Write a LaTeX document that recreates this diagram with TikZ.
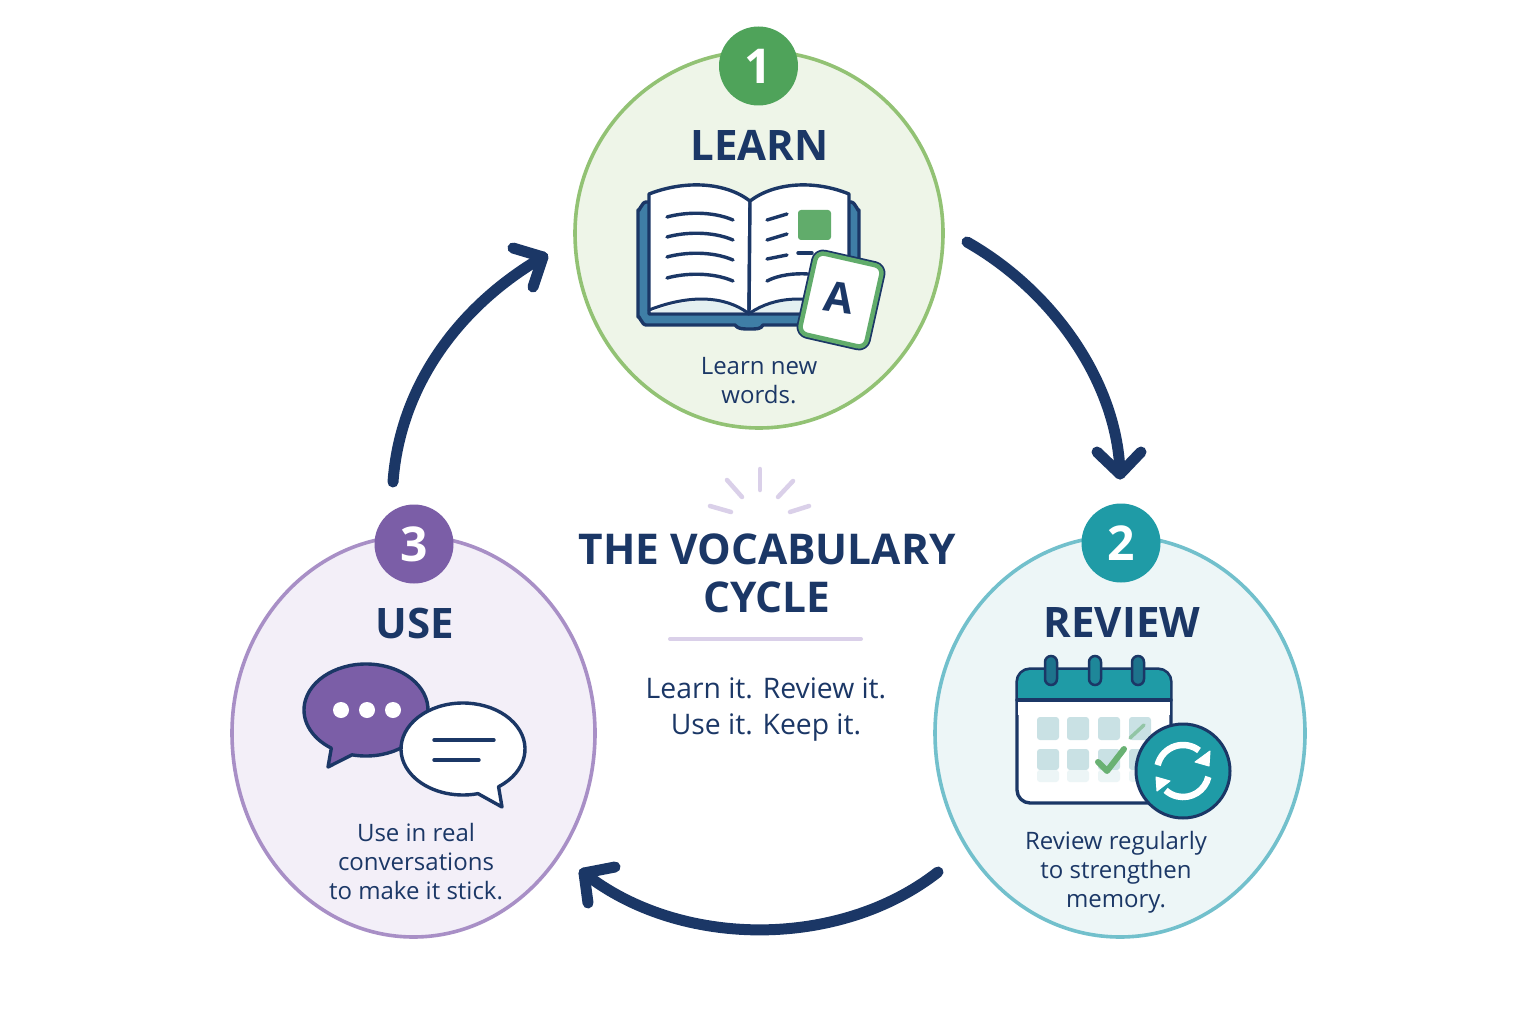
\documentclass[tikz,border=0pt]{standalone}
\usepackage{fontspec}
\setmainfont{Open Sans}
\usetikzlibrary{arrows.meta,shapes.geometric,calc}
\definecolor{navy}{HTML}{1B3766}
\definecolor{lgreen}{HTML}{EEF5E8}\definecolor{bgreen}{HTML}{92C274}\definecolor{dgreen}{HTML}{4FA35A}
\definecolor{lteal}{HTML}{EDF6F7}\definecolor{bteal}{HTML}{72C0CC}\definecolor{dteal}{HTML}{1F9BA6}
\definecolor{lpurple}{HTML}{F3EFF8}\definecolor{bpurple}{HTML}{A88FC6}\definecolor{dpurple}{HTML}{7B5EA7}
\definecolor{lilac}{HTML}{DAD0E9}\definecolor{cover}{HTML}{3F7EA6}\definecolor{cell}{HTML}{C9E1E4}
\tikzset{
  stage/.style={line width=3.6pt},
  badge/.style={circle,minimum size=79pt,inner sep=0pt,text=white,font=\fontsize{48}{48}\selectfont\bfseries},
  heading/.style={text=navy,font=\fontsize{42}{42}\selectfont\bfseries,inner sep=0pt},
  body/.style={text=navy,font=\fontsize{24}{29}\selectfont,align=center,inner sep=0pt},
  flow/.style={draw=navy,line width=11pt,line cap=round,line join=round},
  ink/.style={draw=navy,line width=3.4pt,line join=round,line cap=round},
  burst/.style={draw=lilac,line width=4.5pt,line cap=round},
}
\newcommand{\stageshape}[5]{(#1-#3,#2) arc[start angle=180,end angle=360,x radius=#3,y radius=#4] arc[start angle=0,end angle=180,x radius=#3,y radius=#5] -- cycle}
\begin{document}
\begin{tikzpicture}[x=1pt,y=-1pt]
\useasboundingbox (0,0) rectangle (1536,1024);
\fill[white] (0,0) rectangle (1536,1024);
% stages
\draw[stage,draw=bgreen,fill=lgreen] \stageshape{759}{233}{184}{182}{195};
\draw[stage,draw=bteal,fill=lteal] \stageshape{1120}{733}{185}{197}{204};
\draw[stage,draw=bpurple,fill=lpurple] \stageshape{413.5}{733}{181.5}{197}{204};
\node[badge,fill=dgreen] (b1) at (758.5,66) {1};
\node[badge,fill=dteal] (b2) at (1121,543) {2};
\node[badge,fill=dpurple] (b3) at (414,544) {3};
\node[heading] (tlearn) at (759.5,145) {LEARN};
\node[heading] (treview) at (1122,623) {REVIEW};
\node[heading] (tuse) at (415,623) {USE};
\node[body] (dlearn) at (759,381) {Learn new\\words.};
\node[body] (dreview) at (1116,872.5) {Review regularly\\to strengthen\\memory.};
\node[body] (duse) at (416,862) {Use in real\\conversations\\to make it stick.};
% centre
\node[text=navy,font=\fontsize{42.4}{48}\selectfont\bfseries,align=center,inner sep=0pt] (title) at (767,573) {THE VOCABULARY\\CYCLE};
\node[text=navy,font=\fontsize{28.3}{36}\selectfont,align=center,inner sep=0pt] (tag) at (766,709.5) {Learn it. Review it.\\Use it. Keep it.};
\draw[draw=lilac,line width=4pt,line cap=round] (670,639) -- (861,639);
\draw[burst] (760,469) -- (760,490);
\draw[burst] (727,480) -- (742,497);
\draw[burst] (793,481) -- (778,497);
\draw[burst] (710,506) -- (731,512);
\draw[burst] (809,506) -- (790,512);
% arrows
\coordinate (a1s) at (967,242); \coordinate (a1e) at (1120,474);
\coordinate (a1l) at (1097,452); \coordinate (a1r) at (1141,452);
\coordinate (a2s) at (938,872); \coordinate (a2e) at (584,873);
\coordinate (a2l) at (615,867); \coordinate (a2r) at (588,903);
\coordinate (a3s) at (393,482); \coordinate (a3e) at (543,257);
\coordinate (a3l) at (513,248); \coordinate (a3r) at (533,287);
\draw[flow] (a1s) .. controls (1055,292) and (1118,385) .. (a1e);
\draw[flow] (a1l) -- (a1e) -- (a1r);
\draw[flow] (a2s) .. controls (840,949) and (680,949) .. (a2e);
\draw[flow] (a2l) -- (a2e) -- (a2r);
\draw[flow] (a3s) .. controls (400,385) and (460,305) .. (a3e);
\draw[flow] (a3l) -- (a3e) -- (a3r);
% book
\fill[cover] (646,202) -- (851,202) to[out=0,in=-90] (859,210) -- (859,317) to[out=90,in=0] (851,325) -- (763,325) .. controls (761,329) and (757,329) .. (750,329) .. controls (742,329) and (738,329) .. (735,325) -- (646,325) to[out=180,in=90] (638,317) -- (638,210) to[out=-90,in=180] (646,202) -- cycle;
\draw[ink] (646,202) -- (851,202) to[out=0,in=-90] (859,210) -- (859,317) to[out=90,in=0] (851,325) -- (763,325) .. controls (761,329) and (757,329) .. (750,329) .. controls (742,329) and (738,329) .. (735,325) -- (646,325) to[out=180,in=90] (638,317) -- (638,210) to[out=-90,in=180] (646,202) -- cycle;
\draw[ink,fill=white] (649,194) .. controls (685,180) and (725,182) .. (750,201) -- (749,314) -- (649,314) -- cycle;
\draw[ink,fill=white] (750,201) .. controls (775,182) and (815,180) .. (849,194) -- (849,314) -- (749,314) -- cycle;
\fill[cell!50] (651,312) .. controls (690,296) and (725,298) .. (747,312) -- cycle;
\fill[cell!50] (752,312) .. controls (775,298) and (805,296) .. (847,312) -- cycle;
\draw[ink,line width=3pt] (649,310) .. controls (690,294) and (725,296) .. (748,313);
\draw[ink,line width=3pt] (750,313) .. controls (775,296) and (810,294) .. (848,310);
\foreach \yy in {217,237,257,278}{
  \draw[ink] (667,\yy) .. controls (685,\yy-5) and (712,\yy-6) .. (733,\yy+3);
}
\draw[ink] (767,220) -- (787,214);
\draw[ink] (767,240) -- (787,234);
\draw[ink] (767,259) -- (787,255);
\draw[ink] (798,253) -- (812,253);
\draw[ink] (767,281) .. controls (778,275) and (795,273) .. (808,274);
\fill[dgreen!90!white,rounded corners=3pt] (798,210) rectangle (831,240);
\draw[draw=navy,line width=8pt,line join=round,rounded corners=8pt] (817,252) -- (883,267) -- (865,348) -- (799,333) -- cycle;
\draw[draw=dgreen!90!white,fill=white,line width=4.5pt,line join=round,rounded corners=8pt] (817,252) -- (883,267) -- (865,348) -- (799,333) -- cycle;
\node[text=navy,font=\fontsize{42}{42}\selectfont\bfseries,inner sep=0pt,rotate=-8] (cardA) at (839,298) {A};
% calendar
\draw[ink,fill=white,rounded corners=13pt] (1017,669) rectangle (1171,803);
\fill[dteal,rounded corners=12pt] (1018,670) rectangle (1170,712);
\fill[white] (1018,700) rectangle (1170,715);
\draw[ink] (1017,700) -- (1171,700);
\foreach \xx/\cc in {1051/60,1095/80,1138/60}{
  \draw[draw=navy,fill=dteal!\cc!navy,line width=2.5pt,rounded corners=6pt] (\xx-6,656) rectangle (\xx+6,685);
}
\foreach \xx in {1037,1067,1098,1129}{
  \fill[cell,rounded corners=3pt] (\xx,717) rectangle (\xx+22,740);
  \fill[cell,rounded corners=3pt] (\xx,749) rectangle (\xx+22,770);
  \fill[cell!35,rounded corners=3pt] (\xx,770) -- (\xx+22,770) -- (\xx+22,782) -- (\xx,782) -- cycle;
}
\draw[draw=dgreen!45!cell,line width=3.5pt,line cap=round] (1130,738) -- (1144,725);
\draw[draw=dgreen!85!white,line width=6pt,line cap=round,line join=round] (1098,762) -- (1107,771) -- (1124,749);
\node[circle,draw=navy,fill=dteal,line width=3pt,minimum size=94pt,inner sep=0pt] (sync) at (1183,771) {};
\draw[white,line width=6.5pt] (1183,771) ++(193:26 and 26) arc[start angle=193,end angle=308,radius=26];
\draw[white,line width=6.5pt] (1183,771) ++(13:26 and 26) arc[start angle=13,end angle=132,radius=26];
\fill[white,draw=white,line width=1pt,line join=round] (1210,751) -- (1209,766) -- (1195,762) -- cycle;
\fill[white,draw=white,line width=1pt,line join=round] (1156,777) -- (1170,781) -- (1157,791) -- cycle;
% chat
\draw[ink,fill=dpurple] (366,710) ++(103:62 and 46) arc[start angle=103,end angle=-236,x radius=62,y radius=46] -- (328,767) -- cycle;
\fill[white] (341,710) circle[radius=8] (367,710) circle[radius=8] (393,710) circle[radius=8];
\draw[ink,fill=white] (463,749) ++(55:62 and 46) arc[start angle=55,end angle=-284,x radius=62,y radius=46] -- (502,807) -- cycle;
\draw[ink] (434,740) -- (494,740);
\draw[ink] (434,760) -- (479,760);
\end{tikzpicture}
\end{document}
